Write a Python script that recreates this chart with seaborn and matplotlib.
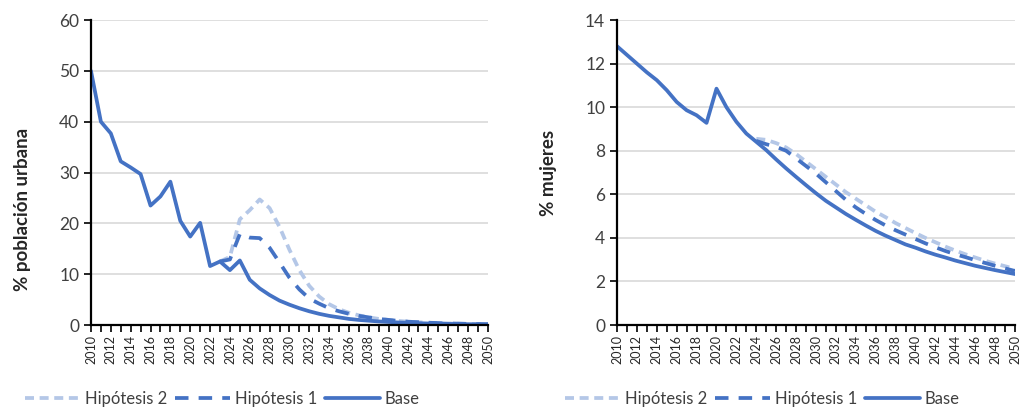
import numpy as np
import pandas as pd
import seaborn as sns
import matplotlib.pyplot as plt

anios = list(range(2010, 2051))

# % población urbana
urb_base = [50, 40, 37.7, 32.2, 31.0, 29.7, 23.5, 25.3, 28.2, 20.5,
            17.4, 20.1, 11.6, 12.5, 10.8, 12.7, 8.9, 7.2, 5.9, 4.8,
            4.0, 3.3, 2.7, 2.2, 1.8, 1.5, 1.2, 1.0, 0.85, 0.7,
            0.6, 0.5, 0.42, 0.36, 0.3, 0.26, 0.22, 0.19, 0.16, 0.14, 0.12]
urb_hip1 = [None] * 13 + [12.5, 12.9, 17.9, 17.2, 17.1, 15.2, 12.3,
            9.3, 7.0, 5.2, 4.2, 3.3, 2.7, 2.2, 1.8, 1.5, 1.2,
            1.0, 0.8, 0.65, 0.55, 0.45, 0.38, 0.32, 0.27, 0.22, 0.18, 0.15]
urb_hip2 = [None] * 13 + [12.5, 13.4, 20.8, 22.6, 24.7, 23.0, 19.3,
            14.8, 10.8, 7.7, 5.6, 4.1, 3.1, 2.4, 1.9, 1.5, 1.2,
            1.0, 0.8, 0.65, 0.55, 0.45, 0.38, 0.32, 0.27, 0.22, 0.19, 0.17]

# % mujeres
muj_base = [12.8, 12.4, 12.0, 11.6, 11.24, 10.78, 10.24, 9.86, 9.63, 9.28,
            10.85, 10.0, 9.33, 8.79, 8.41, 8.03, 7.6, 7.19, 6.8, 6.42,
            6.05, 5.7, 5.4, 5.1, 4.83, 4.57, 4.32, 4.1, 3.9, 3.7,
            3.55, 3.38, 3.23, 3.1, 2.96, 2.84, 2.72, 2.62, 2.52, 2.43, 2.34]
muj_hip1 = [None] * 14 + [8.45, 8.3, 8.18, 8.0, 7.65, 7.3,
            6.95, 6.55, 6.15, 5.75, 5.4, 5.1, 4.82, 4.57, 4.35, 4.15,
            3.95, 3.75, 3.57, 3.4, 3.25, 3.12, 2.98, 2.85, 2.72, 2.6, 2.48]
muj_hip2 = [None] * 14 + [8.55, 8.5, 8.35, 8.15, 7.85, 7.5,
            7.15, 6.8, 6.45, 6.1, 5.8, 5.5, 5.2, 4.95, 4.68, 4.45,
            4.22, 4.0, 3.8, 3.6, 3.42, 3.25, 3.1, 2.95, 2.82, 2.7, 2.58]

series = ['Hipótesis 2', 'Hipótesis 1', 'Base']
colores = {'Hipótesis 2': '#B4C7E7', 'Hipótesis 1': '#4472C4', 'Base': '#4472C4'}
guiones = {'Hipótesis 2': (2.4, 1.5), 'Hipótesis 1': (3.6, 2.7), 'Base': ''}

sns.set_style("white")
plt.rcParams['font.family'] = ['Lato', 'DejaVu Sans']

fig = plt.figure(figsize=(10.21, 4.11), dpi=100)
ax1 = fig.add_axes([0.0891, 0.2092, 0.3888, 0.742])
ax2 = fig.add_axes([0.6043, 0.2092, 0.3898, 0.742])


def armar(ax, base, hip1, hip2, ymax, ystep, ylabel, lx, lab_y):
    df = pd.DataFrame({'anio': anios, 'Hipótesis 2': hip2,
                       'Hipótesis 1': hip1, 'Base': base})
    df = df.melt(id_vars='anio', var_name='serie', value_name='valor').dropna()
    df['valor'] = df['valor'].astype(float)
    sns.lineplot(data=df, x='anio', y='valor', hue='serie', style='serie',
                 hue_order=series, style_order=series, palette=colores,
                 dashes=guiones, linewidth=2.7, ax=ax, legend=False)
    ax.set_xlim(2010, 2050)
    ax.set_ylim(0, ymax)
    ax.set_yticks(np.arange(0, ymax + 0.01, ystep))
    ax.set_xticks(anios, minor=True)
    ax.set_xticks(anios[::2])
    ax.set_xticklabels([str(a) for a in anios[::2]], rotation=90, fontsize=9)
    ax.tick_params(axis='x', which='both', direction='out', length=5,
                   width=1.2, color='black', bottom=True, pad=2)
    ax.tick_params(axis='y', direction='out', length=5, width=1.2,
                   color='black', left=True, labelsize=12.5, labelcolor='#404040')
    ax.grid(axis='y', color='#D9D9D9', linewidth=1.2)
    ax.set_axisbelow(True)
    for s in ['top', 'right']:
        ax.spines[s].set_visible(False)
    for s in ['left', 'bottom']:
        ax.spines[s].set_color('black')
        ax.spines[s].set_linewidth(1.6)
    ax.set_xlabel('')
    ax.set_ylabel(ylabel, fontsize=13.5, fontweight='bold', color='#262626')
    ax.yaxis.set_label_coords(-0.15, lab_y)
    lineas = ax.get_lines()
    fig.legend(lineas[:3], series, loc='center', bbox_to_anchor=(lx, 0.03),
               ncol=3, frameon=False, fontsize=12, handlelength=3.3,
               columnspacing=0.45, handletextpad=0.3, labelcolor='#404040')


armar(ax1, urb_base, urb_hip1, urb_hip2, 60, 10, '% población urbana', 0.218, 0.38)
armar(ax2, muj_base, muj_hip1, muj_hip2, 14, 2, '% mujeres', 0.747, 0.5)

fig.savefig('out.png', dpi=100)
